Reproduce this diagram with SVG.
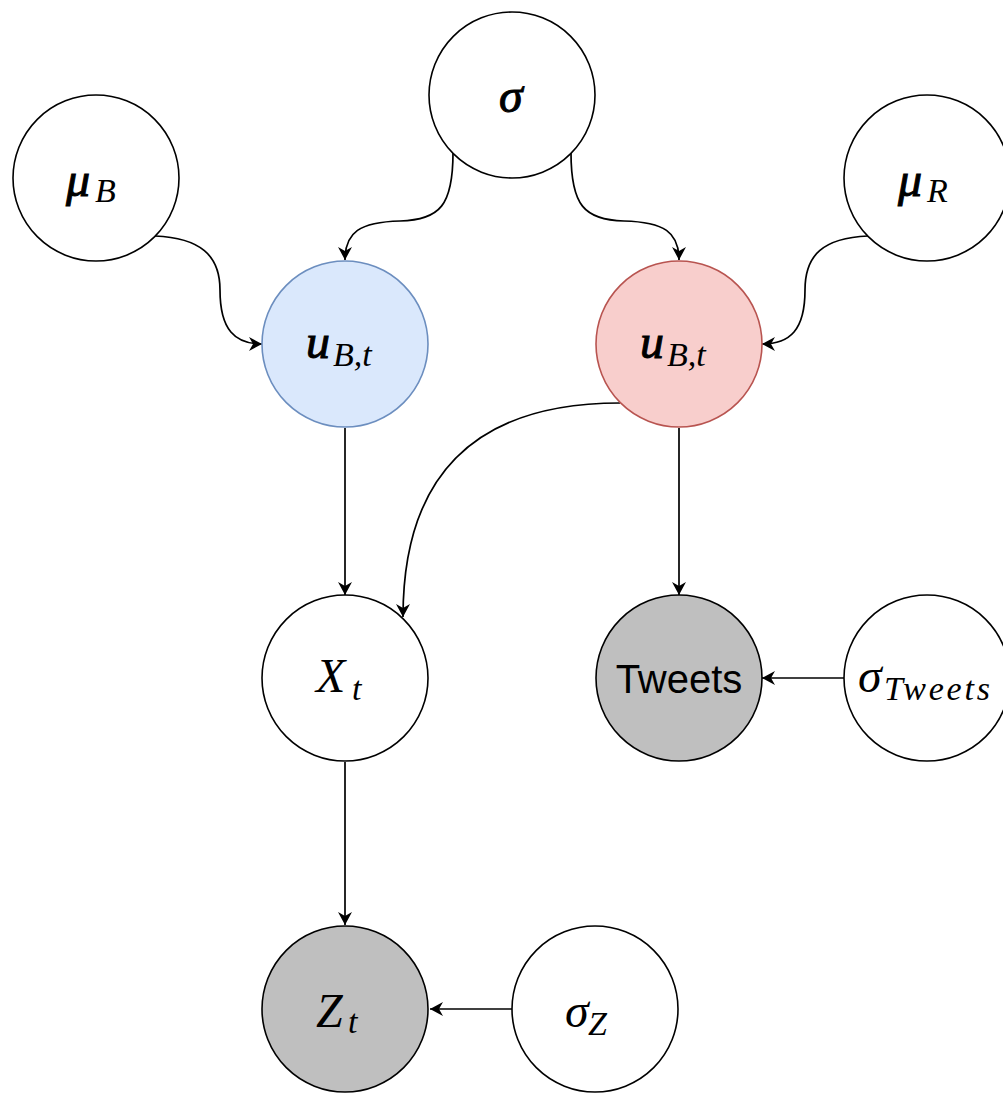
<svg xmlns="http://www.w3.org/2000/svg" width="1003" height="1093" viewBox="0 0 1003 1093">
  <style>
    .node { stroke: #000; stroke-width: 1.6; fill: #fff; }
    .blue { fill: #dae8fc; stroke: #6c8ebf; }
    .red { fill: #f8cecc; stroke: #b85450; }
    .gray { fill: #bfbfbf; }
    .edge { fill: none; stroke: #000; stroke-width: 1.7; marker-end: url(#arrow); }
    .m { font-family: "Liberation Serif", "DejaVu Serif", serif; font-style: italic; font-size: 48px; fill: #000; }
    .b { stroke: #000; stroke-width: 1; }
    .s { font-family: "Liberation Serif", "DejaVu Serif", serif; font-style: italic; font-size: 34px; fill: #000; }
    .plain { font-family: "Liberation Sans", Arial, sans-serif; font-size: 40px; fill: #000; }
  </style>
  <defs>
    <marker id="arrow" markerUnits="userSpaceOnUse" markerWidth="14" markerHeight="14" refX="13" refY="7" orient="auto">
      <path d="M0,0 L13,7 L0,14 L4,7 Z" fill="#000"/>
    </marker>
  </defs>

  <rect width="1003" height="1093" fill="#fff"/>

  <!-- connectors -->
  <g id="edges">
    <path class="edge" d="M453,153 C453,205 440,220 400,221 C360,222 345,232 345,260"/>
    <path class="edge" d="M571,153 C571,205 584,220 624,221 C664,222 679,232 679,260"/>
    <path class="edge" d="M155,236 C200,238 220,255 220,290 C220,330 235,344 262,344"/>
    <path class="edge" d="M868,236 C823,238 805,255 805,290 C805,330 790,344 762,344"/>
    <path class="edge" d="M345,428 L345,595"/>
    <path class="edge" d="M620,403 C470,403 403,480 403,617"/>
    <path class="edge" d="M679,428 L679,595"/>
    <path class="edge" d="M844,678 L762,678"/>
    <path class="edge" d="M345,762 L345,925"/>
    <path class="edge" d="M512,1009 L430,1009"/>
  </g>

  <!-- nodes -->
  <g id="sigma">
    <circle class="node" cx="512" cy="95" r="83"/>
    <text class="m b" x="499" y="112">σ</text>
  </g>
  <g id="mu_B">
    <circle class="node" cx="96" cy="178" r="83"/>
    <text class="m b" x="66" y="196">μ</text>
    <text class="s" x="95" y="202">B</text>
  </g>
  <g id="mu_R">
    <circle class="node" cx="927" cy="178" r="83"/>
    <text class="m b" x="898" y="196">μ</text>
    <text class="s" x="927" y="202">R</text>
  </g>
  <g id="u_blue">
    <circle class="node blue" cx="345" cy="344" r="83"/>
    <text class="m b" x="306" y="358">u</text>
    <text class="s" x="333" y="366">B,t</text>
  </g>
  <g id="u_red">
    <circle class="node red" cx="679" cy="344" r="83"/>
    <text class="m b" x="640" y="358">u</text>
    <text class="s" x="667" y="366">B,t</text>
  </g>
  <g id="X_t">
    <circle class="node" cx="345" cy="678" r="83"/>
    <text class="m" x="316" y="692">X</text>
    <text class="s" x="352" y="700">t</text>
  </g>
  <g id="tweets">
    <circle class="node gray" cx="679" cy="678" r="83"/>
    <text class="plain" x="679" y="693" text-anchor="middle">Tweets</text>
  </g>
  <g id="sigma_tweets">
    <circle class="node" cx="927" cy="678" r="83"/>
    <text class="m" x="858" y="692">σ</text>
    <text class="s" x="884" y="700" textLength="106" lengthAdjust="spacing">Tweets</text>
  </g>
  <g id="Z_t">
    <circle class="node gray" cx="345" cy="1009" r="83"/>
    <text class="m" x="316" y="1027">Z</text>
    <text class="s" x="348" y="1033">t</text>
  </g>
  <g id="sigma_Z">
    <circle class="node" cx="595" cy="1009" r="83"/>
    <text class="m" x="565" y="1027">σ</text>
    <text class="s" x="588" y="1035">Z</text>
  </g>
</svg>
